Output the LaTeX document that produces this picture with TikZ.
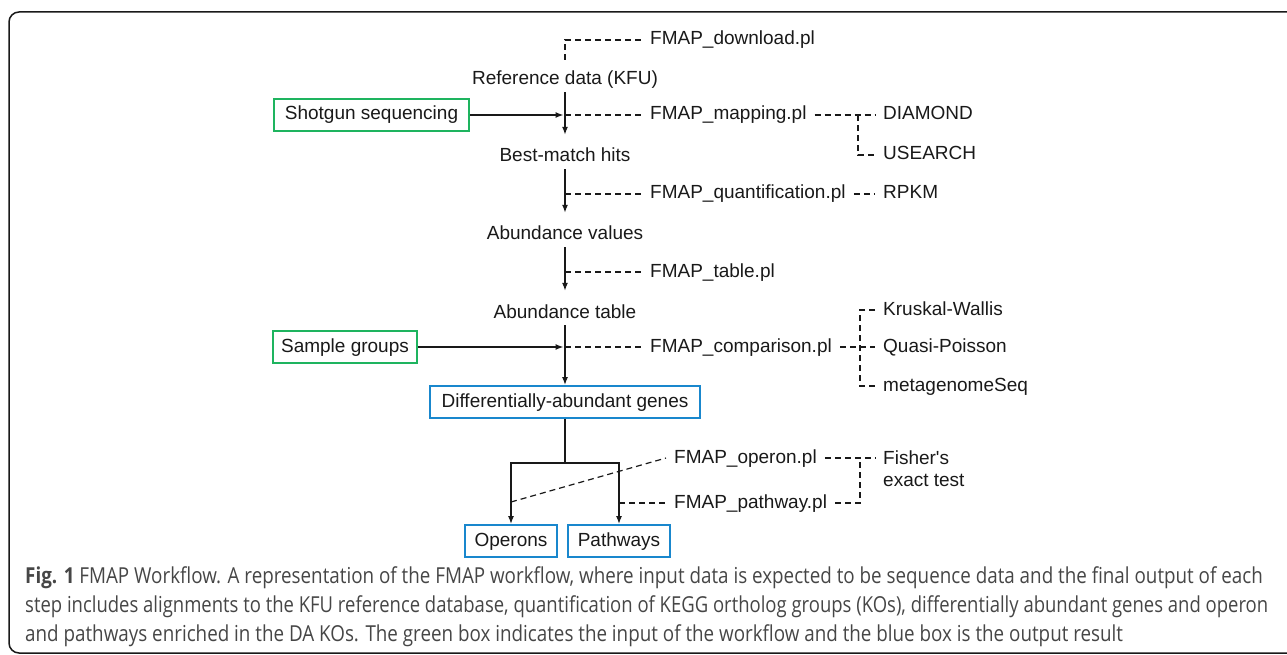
\documentclass[tikz,border=0pt]{standalone}
\usepackage{fontspec}
\setmainfont{Liberation Sans}
\newfontfamily\capfont[FakeStretch=0.855]{Open Sans}
\newfontfamily\capfontb[FakeStretch=0.84]{Open Sans}
\usetikzlibrary{arrows.meta}
\definecolor{gbox}{RGB}{30,180,95}
\definecolor{bbox}{RGB}{25,135,205}
\definecolor{captxt}{RGB}{70,70,70}
\definecolor{ink}{RGB}{25,25,25}
\tikzset{
  basefont/.style={font=\fontsize{19}{22}\selectfont, text=ink},
  mainlbl/.style={basefont, inner sep=0pt, text height=27pt, text depth=7pt, anchor=base},
  sidelbl/.style={basefont, inner xsep=8pt, inner ysep=0pt, text height=14pt, text depth=4pt, anchor=west},
  boxnode/.style={basefont, draw, line width=1.8pt, minimum height=32pt, inner xsep=8pt, text height=14pt, text depth=4pt},
  gboxn/.style={boxnode, draw=gbox},
  bboxn/.style={boxnode, draw=bbox},
  arr/.style={line width=1.4pt, draw=ink, -{Latex[length=8pt,width=6pt]}},
  sol/.style={line width=1.4pt, draw=ink},
  dsh/.style={line width=1.2pt, draw=ink, dash pattern=on 6pt off 4pt},
  captionline/.style={font=\capfont\fontsize{22}{26}\selectfont, text=captxt, anchor=west, inner sep=0pt},
  captionlineb/.style={captionline, font=\capfontb\fontsize{22}{26}\selectfont}
}
\begin{document}
\begin{tikzpicture}[x=1pt,y=-1pt]
\useasboundingbox (0,0) rectangle (1287,655);
\begin{scope}
\clip (0,0) rectangle (1287,655);
\draw[line width=1.5pt, draw=ink, rounded corners=10pt] (1300,12) -- (9,12) -- (9,653) -- (1300,653);
\end{scope}

% main column
\node[mainlbl] (ref) at (565,85) {Reference data (KFU)};
\node[mainlbl] (best) at (565,162) {Best-match hits};
\node[mainlbl] (abv) at (565,240) {Abundance values};
\node[mainlbl] (abt) at (565,318) {Abundance table};
\node[bboxn, minimum width=270pt] (dag) at (565,402) {Differentially-abundant genes};
\node[bboxn, minimum width=92pt] (ops) at (511,541) {Operons};
\node[bboxn, minimum width=102pt] (pws) at (619,541) {Pathways};

% inputs
\node[gboxn, minimum width=195pt] (shot) at (371.5,115) {Shotgun sequencing};
\node[gboxn, minimum width=142pt] (samp) at (345,347) {Sample groups};

% scripts
\node[sidelbl] (dll) at (642,40) {FMAP\_download.pl};
\node[sidelbl] (mapl) at (642,115) {FMAP\_mapping.pl};
\node[sidelbl] (quant) at (642,194) {FMAP\_quantification.pl};
\node[sidelbl] (tabl) at (642,272) {FMAP\_table.pl};
\node[sidelbl] (comp) at (642,347) {FMAP\_comparison.pl};
\node[sidelbl] (opl) at (666,458) {FMAP\_operon.pl};
\node[sidelbl] (pwl) at (666,503) {FMAP\_pathway.pl};

% tools
\node[sidelbl] (dia) at (875,115) {DIAMOND};
\node[sidelbl] (use) at (875,155) {USEARCH};
\node[sidelbl] (rpkm) at (875,194) {RPKM};
\node[sidelbl] (kw) at (875,310) {Kruskal-Wallis};
\node[sidelbl] (qp) at (875,347) {Quasi-Poisson};
\node[sidelbl] (ms) at (875,386) {metagenomeSeq};
\node[basefont, anchor=west, inner xsep=8pt, inner ysep=0pt, align=left] (fish) at (875,469) {Fisher\textquotesingle s\\exact test};

% coordinates
\coordinate (jd) at (565,60);
\coordinate (m1) at (565,115);
\coordinate (m2) at (565,194);
\coordinate (m3) at (565,272);
\coordinate (m4) at (565,347);
\coordinate (jm) at (858,115);
\coordinate (jc) at (860,347);
\coordinate (split) at (565,463);
\coordinate (od) at (511,502);
\coordinate (pd) at (619,503);
\coordinate (jf) at (860,458);
\coordinate (fw) at (875,458);

% solid arrows
\draw[arr] (ref) -- (best);
\draw[arr] (best) -- (abv);
\draw[arr] (abv) -- (abt);
\draw[arr] (abt) -- (dag);
\draw[arr, shorten >=1.5pt] (shot) -- (m1);
\draw[arr, shorten >=1.5pt] (samp) -- (m4);
\draw[sol] (dag) -- (split);
\draw[arr] (split) -| (ops);
\draw[arr] (split) -| (pws);

% dashed links
\draw[dsh] (jd) |- (dll);
\draw[dsh] (m1) -- (mapl);
\draw[dsh] (m2) -- (quant);
\draw[dsh] (m3) -- (tabl);
\draw[dsh] (m4) -- (comp);
\draw[dsh] (mapl) -- (dia);
\draw[dsh] (jm) |- (use);
\draw[dsh] (quant) -- (rpkm);
\draw[dsh] (comp) -- (qp);
\draw[dsh] (kw) -| (jc) |- (ms);
\draw[dsh] (od) -- (opl.west);
\draw[dsh] (pd) -- (pwl);
\draw[dsh] (opl) -- (jf) -- (fw);
\draw[dsh] (pwl) -| (jf);

% caption
\node[captionline] (c1) at (25,578) {\textbf{Fig. 1} FMAP Workflow. A representation of the FMAP workflow, where input data is expected to be sequence data and the final output of each};
\node[captionlineb] (c2) at (25,607) {step includes alignments to the KFU reference database, quantification of KEGG ortholog groups (KOs), differentially abundant genes and operon};
\node[captionline] (c3) at (25,636) {and pathways enriched in the DA KOs. The green box indicates the input of the workflow and the blue box is the output result};
\end{tikzpicture}
\end{document}
